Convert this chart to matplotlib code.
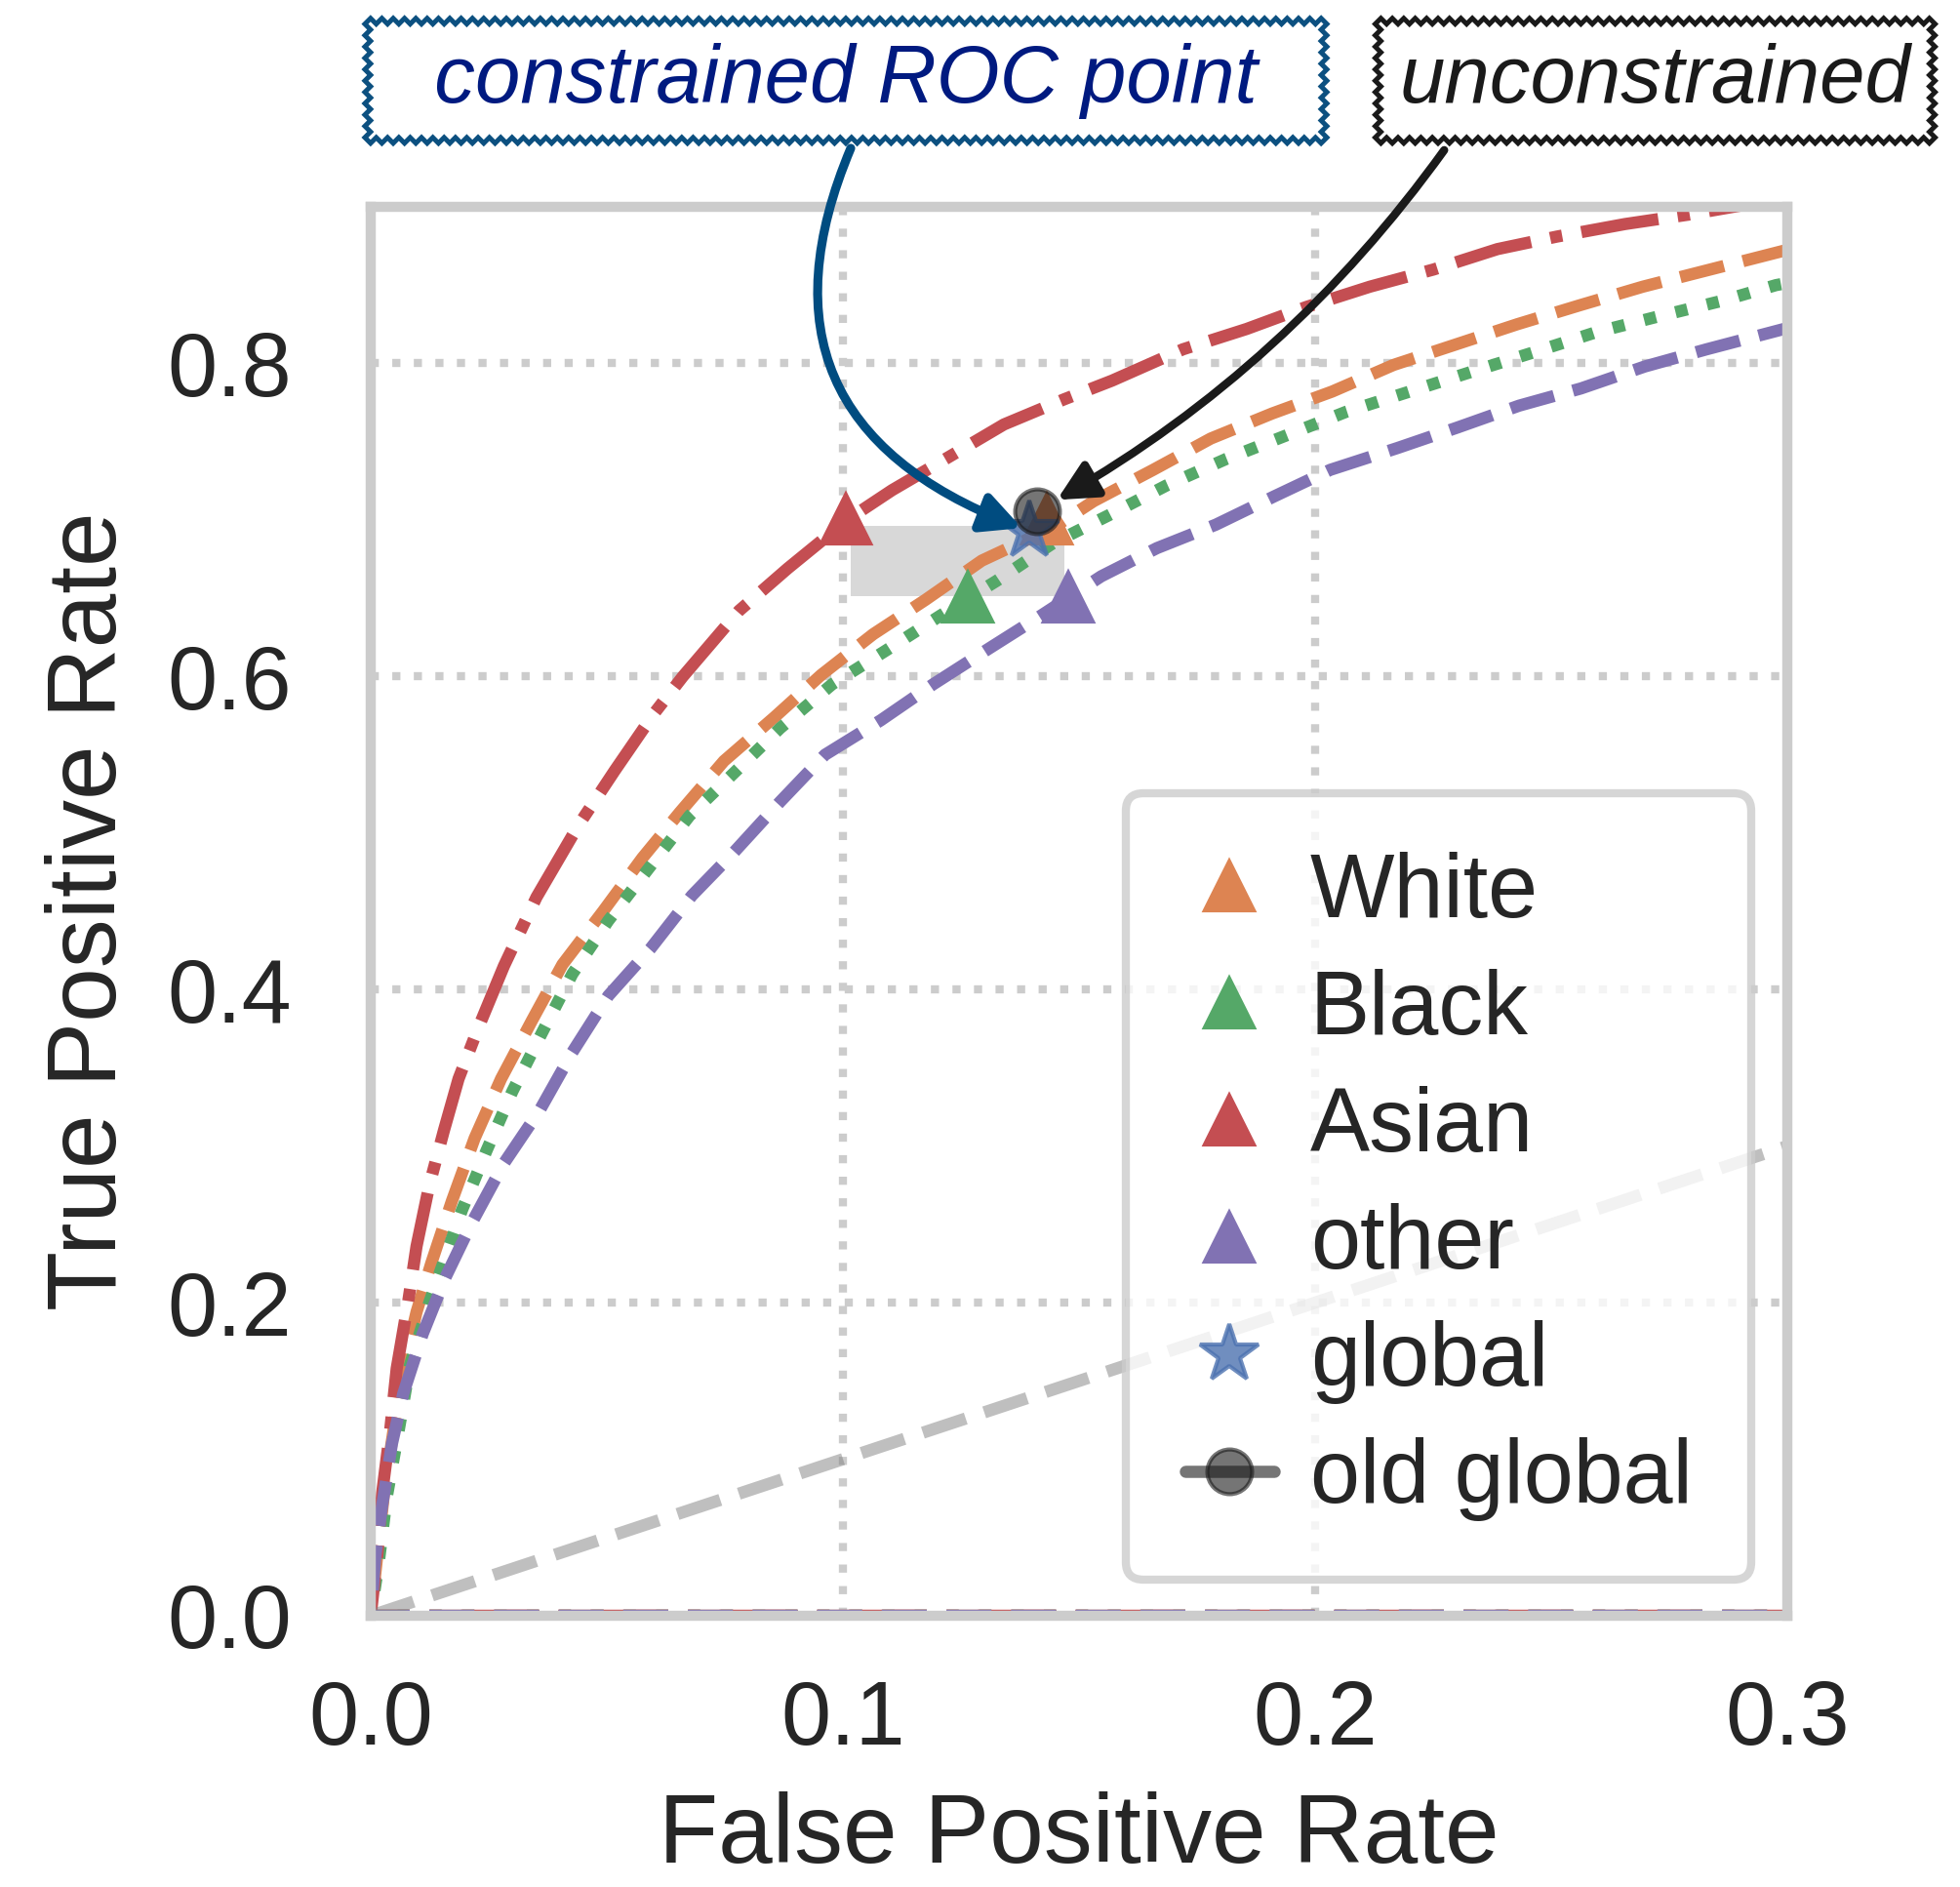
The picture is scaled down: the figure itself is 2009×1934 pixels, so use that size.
import matplotlib
matplotlib.use("Agg")
import matplotlib.pyplot as plt
import seaborn as sns
from matplotlib.patches import Rectangle

# ROC curves per group (fpr, tpr)
white_fpr = [1.0, 0.0, 0.0014, 0.0028, 0.0048, 0.0069, 0.0097, 0.0128, 0.0172, 0.0220, 0.0276,
             0.0341, 0.0406, 0.0492, 0.0575, 0.0654, 0.0748, 0.0855, 0.0954, 0.1064, 0.1175,
             0.1294, 0.1450, 0.1531, 0.1657, 0.1779, 0.1909, 0.2036, 0.2166, 0.2297, 0.2428,
             0.2559, 0.2694, 0.2824, 0.2993, 0.3100]
white_tpr = [0.0, 0.0, 0.039, 0.078, 0.118, 0.158, 0.194, 0.225, 0.265, 0.305, 0.343,
             0.380, 0.416, 0.450, 0.484, 0.513, 0.546, 0.574, 0.601, 0.627, 0.649,
             0.674, 0.696, 0.712, 0.732, 0.752, 0.768, 0.782, 0.799, 0.812, 0.825,
             0.837, 0.849, 0.859, 0.872, 0.879]

black_fpr = [1.0, 0.0, 0.0017, 0.0034, 0.0059, 0.0083, 0.0124, 0.0193, 0.0245, 0.0300, 0.0362,
             0.0427, 0.0503, 0.0585, 0.0675, 0.0768, 0.0867, 0.0977, 0.1088, 0.1207, 0.1325,
             0.1444, 0.1563, 0.1685, 0.1812, 0.1939, 0.2065, 0.2200, 0.2335, 0.2462, 0.2596,
             0.2727, 0.2862, 0.2976, 0.3100]
black_tpr = [0.0, 0.0, 0.034, 0.076, 0.118, 0.160, 0.200, 0.259, 0.297, 0.335, 0.372,
             0.410, 0.444, 0.476, 0.511, 0.538, 0.567, 0.595, 0.616, 0.639, 0.661,
             0.685, 0.703, 0.722, 0.739, 0.754, 0.769, 0.782, 0.795, 0.807, 0.820,
             0.830, 0.840, 0.850, 0.857]

asian_fpr = [1.0, 0.0, 0.0014, 0.0024, 0.0041, 0.0055, 0.0079, 0.0097, 0.0124, 0.0155, 0.0186,
             0.0227, 0.0282, 0.0351, 0.0440, 0.0517, 0.0599, 0.0661, 0.0780, 0.0883, 0.1009,
             0.1104, 0.1223, 0.1341, 0.1468, 0.1570, 0.1720, 0.1855, 0.1981, 0.2116, 0.2251,
             0.2386, 0.2512, 0.2656, 0.2790, 0.3000]
asian_tpr = [0.0, 0.0, 0.039, 0.078, 0.118, 0.158, 0.200, 0.236, 0.275, 0.310, 0.343,
             0.375, 0.415, 0.459, 0.505, 0.540, 0.576, 0.600, 0.642, 0.669, 0.700,
             0.719, 0.740, 0.761, 0.777, 0.789, 0.809, 0.822, 0.836, 0.849, 0.860,
             0.873, 0.881, 0.889, 0.895, 0.906]

other_fpr = [1.0, 0.0, 0.0010, 0.0024, 0.0045, 0.0069, 0.0110, 0.0158, 0.0214, 0.0282, 0.0358,
             0.0427, 0.0503, 0.0592, 0.0680, 0.0770, 0.0867, 0.0962, 0.1080, 0.1191, 0.1310,
             0.1420, 0.1547, 0.1665, 0.1790, 0.1913, 0.2032, 0.2175, 0.2301, 0.2432, 0.2563,
             0.2698, 0.2829, 0.2993, 0.3100]
other_tpr = [0.0, 0.0, 0.039, 0.070, 0.110, 0.142, 0.180, 0.216, 0.251, 0.289, 0.323,
             0.360, 0.396, 0.426, 0.460, 0.488, 0.520, 0.550, 0.572, 0.595, 0.618,
             0.639, 0.664, 0.682, 0.697, 0.715, 0.732, 0.746, 0.759, 0.773, 0.784,
             0.798, 0.809, 0.822, 0.828]

groups = ["White", "Black", "Asian", "other"]
curves_fpr = [white_fpr, black_fpr, asian_fpr, other_fpr]
curves_tpr = [white_tpr, black_tpr, asian_tpr, other_tpr]

# constrained operating point of each group
point_fpr = [0.1432, 0.1264, 0.1007, 0.1478]
point_tpr = [0.7007, 0.6507, 0.7006, 0.6507]

global_fpr, global_tpr = 0.1395, 0.6930
old_global_fpr, old_global_tpr = 0.1412, 0.7058

# feasible region shading
band_fpr = [0.1017, 0.1469]
band_tpr = [0.6515, 0.6963]

sns.set_theme(context="poster", style="whitegrid", rc={"grid.linestyle": ":"})
plt.rcParams["font.family"] = ["Liberation Sans", "DejaVu Sans"]

pal = sns.color_palette("deep")
colors = [pal[1], pal[2], pal[3], pal[4]]
styles = ["--", ":", "-.", "--"]

fig = plt.figure(figsize=(2009 / 300, 1934 / 300), dpi=300)
ax = fig.add_axes([380 / 2009, 1 - 1656 / 1934, 1452 / 2009, 1444 / 1934])

ax.add_patch(Rectangle((band_fpr[0], band_tpr[0]), band_fpr[1] - band_fpr[0],
                       band_tpr[1] - band_tpr[0], facecolor="gray", alpha=0.3,
                       linewidth=0, zorder=1.5))

for fx, ty, c, ls in zip(curves_fpr, curves_tpr, colors, styles):
    ax.plot(fx, ty, ls, color=c, lw=3)

ax.plot([0, 1], [0, 1], "--", color="gray", alpha=0.5, lw=3)

for g, fx, ty, c in zip(groups, point_fpr, point_tpr, colors):
    ax.plot(fx, ty, "^", color=c, ms=12, label=g, zorder=4)

ax.plot(global_fpr, global_tpr, "*", color=pal[0], alpha=0.8, ms=15,
        label="global", zorder=4)
ax.plot(old_global_fpr, old_global_tpr, "o-", color="k", alpha=0.6, ms=11,
        label="old global", zorder=4)

ax.set_xlim(0, 0.3)
ax.set_ylim(0, 0.9)
ax.set_xticks([0.0, 0.1, 0.2, 0.3])
ax.set_yticks([0.0, 0.2, 0.4, 0.6, 0.8])
ax.tick_params(axis="y", pad=7.5)
ax.set_xlabel("False Positive Rate", labelpad=7)
ax.set_ylabel("True Positive Rate", labelpad=7.5)

ax.legend(loc="lower right", handlelength=1.0, handletextpad=0.4,
          labelspacing=0.37, borderpad=0.66, borderaxespad=0.4)

a1 = ax.annotate("  constrained ROC point  ", xy=(global_fpr, global_tpr),
                 xytext=(0.3354, 1.0895), textcoords="axes fraction",
                 ha="center", va="center", fontsize=20, style="italic",
                 color="#001a80", annotation_clip=False, zorder=6,
                 bbox=dict(boxstyle="sawtooth,pad=0.3,tooth_size=0.07",
                           fc="w", ec="#0c5080", lw=1.2),
                 arrowprops=dict(arrowstyle="-|>", color="#004c80", lw=2.2,
                                 connectionstyle="arc3,rad=0.55",
                                 relpos=(0.52, 0.0), shrinkB=2))

a2 = ax.annotate("unconstrained", xy=(old_global_fpr, old_global_tpr),
                 xytext=(0.9067, 1.0895), textcoords="axes fraction",
                 ha="center", va="center", fontsize=20, style="italic",
                 color="k", annotation_clip=False, zorder=6,
                 bbox=dict(boxstyle="sawtooth,pad=0.3,tooth_size=0.07",
                           fc="w", ec="k", lw=1.2),
                 arrowprops=dict(arrowstyle="-|>", color="k", lw=2,
                                 connectionstyle="arc3,rad=-0.12",
                                 relpos=(0.13, 0.0), shrinkB=5.5))

fig.savefig("out.png", dpi=300)
